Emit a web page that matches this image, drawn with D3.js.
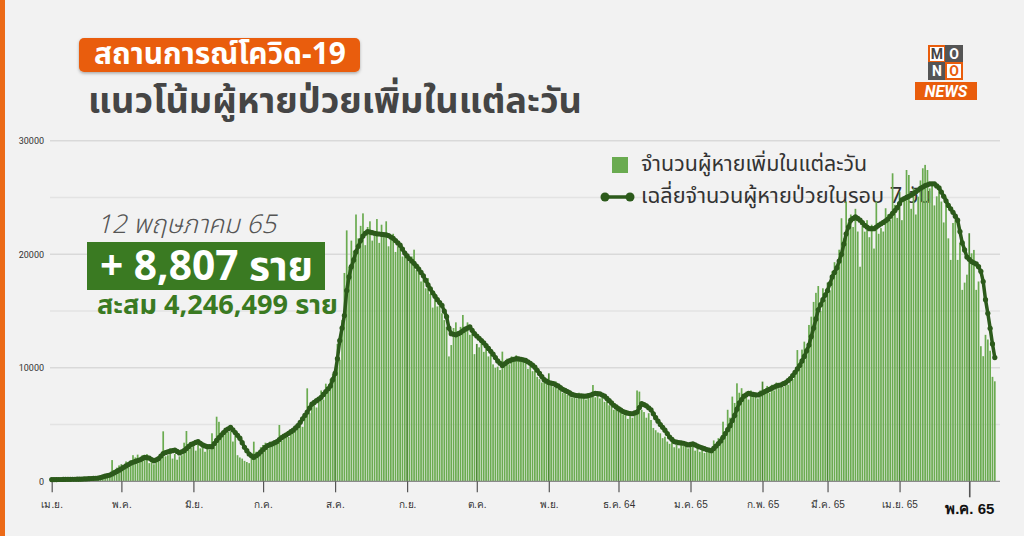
<!DOCTYPE html>
<html lang="th">
<head>
<meta charset="utf-8">
<title>แนวโน้มผู้หายป่วยเพิ่มในแต่ละวัน</title>
<script src="https://cdn.jsdelivr.net/npm/d3@7"></script>
<style>
  html, body { margin: 0; padding: 0; background: #f2f2f2; }
  svg { display: block; font-family: "Noto Sans Thai", "Noto Sans Thai UI", "Noto Sans", "DejaVu Sans", sans-serif; }
</style>
</head>
<body>
<svg id="chart" width="1024" height="536"></svg>
<script>
// daily recovered, starting 1 Apr 2021 (one value per day up to 12 May 2022)
const START_DATE = new Date(2021, 3, 1);

const recovered = [
  // Apr 21
  40,60,90,110,70,150,120,130,160,140, 200,180,150,230,210,170,260,300,240,280, 320,420,480,520,600,650,1870,1000,1200,1400,
  // May 21
  1500,1300,1750,1600,1850,2300,2100,2350,1700,2300, 2250,2400,1600,1750,1500,1900,1800,2100,4400,2200, 2300,2900,2000,2400,1900,2200,2300,3400,4430,2900, 3000,
  // Jun 21
  3300,2700,3600,2900,3100,2600,3200,2800,4230,3000, 5690,5240,4300,4200,4500,4350,4400,3500,4100,2300, 2100,2000,1800,1700,1600,2400,3490,2600,2300,3000,
  // Jul 21
  3200,3400,2900,3500,3300,3550,3300,4960,3600,4000, 4200,3900,4400,4700,4500,5000,5400,4800,6000,8190, 6000,6800,7000,6500,7400,8000,7200,8600,8300,9000, 9470,
  // Aug 21
  9600,12100,10700,14200,18350,22100,18900,21200,20300,23500, 21400,22500,23600,20800,22400,22900,21200,22000,23100,21000, 22600,21500,22900,20700,21500,21800,20200,20700,21000,19800, 20300,
  // Sep 21
  20000,19300,19800,20400,18600,19000,17600,18300,17000,17900, 16500,15300,16600,15400,15800,14800,14200,13600,11000,12000, 13500,14000,13100,13600,14650,13300,14000,12900,13400,11200,
  // Oct 21
  12100,11800,12300,11400,11900,11000,11200,10300,10000,10100, 9800,11420,10200,10800,10300,11000,10600,11100,10600,10900, 10500,10800,9900,10300,9700,9900,9200,9000,8700,8900, 8600,
  // Nov 21
  9510,8600,8300,8800,8100,8400,7800,8200,7600,8000, 7400,7700,7300,7800,7400,7600,7200,7700,7500,8480, 7400,7800,7300,7600,7000,7200,6700,6900,6300,6500,
  // Dec 21
  6200,6500,5900,6100,5500,5800,5600,6000,8000,7900, 6300,6100,5600,6000,5400,4700,4500,4300,4230,3800, 3930,3500,3300,3600,3000,3200,2900,3300,3100,3400, 2900,
  // Jan 22
  3400,3100,2700,3000,2600,2900,2500,2800,2600,2700, 3600,3300,3800,3900,5250,4300,6300,5600,7460,6900, 8630,7800,8200,7400,7900,7200,8000,7500,7800,7300, 8000,
  // Feb 22
  8780,7900,8400,7800,8500,8000,8700,8200,8600,8300, 8900,8500,9220,9000,9500,11560,10500,11600,12300,11800, 13770,14500,15800,16600,17200,15000,17000,16000,
  // Mar 22
  17500,16800,18500,19300,18600,20400,23170,21400,24640,22800, 23500,22400,24000,22000,18900,22500,21990,23000,21500,22600, 20500,24640,21800,22300,22000,24050,23500,23000,27130,24350, 23200,
  // Apr 22
  25500,23000,24800,27420,26980,24000,25810,23500,25070,26500, 27570,27870,27420,25800,26200,24300,25100,25660,24640,22800, 25070,21400,19500,22750,23460,19500,21000,16860,17500,18200,
  // May 22
  21850,20080,20380,16860,17600,11900,11020,12900,12490,11500,9200,8807
];

// 7-day average as drawn
const avg7 = [
  // Apr 21
  150,150,155,160,160,165,170,170,175,180, 180,185,190,200,210,220,230,245,260,270, 280,330,390,450,500,550,650,760,870,980,
  // May 21
  1100,1230,1350,1480,1600,1680,1750,1830,1900,2000, 2100,2080,2050,1920,1800,1900,2000,2230,2450,2530, 2600,2650,2700,2750,2630,2500,2600,2700,2880,3070, 3250,
  // Jun 21
  3330,3420,3500,3350,3200,3120,3050,3050,3050,3320, 3600,3840,4080,4300,4500,4630,4750,4530,4300,4050, 3800,3400,3000,2700,2400,2250,2100,2250,2400,2600,
  // Jul 21
  2800,2980,3150,3230,3300,3400,3500,3680,3850,3980, 4100,4230,4370,4500,4700,4900,5200,5500,5800,6100, 6450,6800,6950,7100,7250,7400,7650,7900,8150,8400, 8950,
  // Aug 21
  9500,10800,12400,13500,14600,16800,18000,18900,19500,20200, 20700,21200,21600,21850,22000,21950,21900,21850,21800,21780, 21750,21720,21700,21650,21520,21400,21200,21000,20800,20450, 20100,
  // Sep 21
  19850,19600,19400,19200,18950,18700,18400,18100,17700,17300, 16950,16600,16300,16000,15750,15500,15000,14500,13500,13000, 12950,12900,13000,13100,13250,13400,13500,13600,13300,13000,
  // Oct 21
  12800,12600,12400,12200,11950,11700,11450,11200,10900,10600, 10400,10200,10350,10500,10600,10700,10750,10800,10780,10750, 10700,10650,10520,10400,10230,10050,9780,9500,9220,8950, 8820,
  // Nov 21
  8700,8650,8600,8500,8400,8250,8100,8000,7900,7780, 7650,7600,7550,7530,7520,7510,7500,7550,7600,7680, 7750,7720,7700,7600,7500,7300,7100,6900,6700,6550,
  // Dec 21
  6400,6270,6150,6070,6000,5970,5950,6020,6100,6500, 6850,6750,6650,6480,6300,5950,5600,5300,5000,4750, 4500,4200,3900,3700,3500,3450,3400,3380,3350,3280, 3200,
  // Jan 22
  3250,3300,3200,3100,3020,2950,2870,2800,2750,2700, 2900,3100,3320,3550,3870,4200,4550,4900,5350,5800, 6350,6900,7200,7500,7620,7750,7700,7650,7620,7600, 7700,
  // Feb 22
  7800,7900,8000,8100,8200,8300,8400,8450,8500,8600, 8700,8870,9050,9320,9600,9900,10200,10600,11000,11500, 12000,12750,13500,14300,15100,15550,16000,16400,
  // Mar 22
  16800,17400,18000,18400,18800,19400,20000,20900,21800,22400, 23000,23150,23300,23150,23000,22780,22550,22400,22250,22250, 22250,22400,22550,22680,22800,22950,23100,23350,23600,23850, 24100,
  // Apr 22
  24450,24800,24900,25000,25100,25200,25350,25500,25650,25800, 25920,26050,26120,26200,26200,26200,26020,25850,25480,25100, 24700,24300,24000,23700,23350,23000,22000,21000,20380,19750,
  // May 22
  19550,19350,19250,19150,18900,18500,17600,16000,14800,13480,12100,10900
];

const yTickValues = [0, 10000, 20000, 30000];
const gridValues = [5000, 10000, 15000, 20000, 25000, 30000];
const monthLabels = ["เม.ย.", "พ.ค.", "มิ.ย.", "ก.ค.", "ส.ค.", "ก.ย.", "ต.ค.", "พ.ย.",
  "ธ.ค. 64", "ม.ค. 65", "ก.พ. 65", "มี.ค. 65", "เม.ย. 65", "พ.ค. 65"];

const GREEN_BAR = "#6aab50";
const GREEN_DARK = "#2c5a1b";
const GREEN_BOX = "#3a7a22";
const ORANGE = "#e95d0c";

const svg = d3.select("#chart");
const W = 1024, H = 536;

svg.append("rect").attr("width", W).attr("height", H).attr("fill", "#f2f2f2");
svg.append("rect").attr("width", 5).attr("height", H).attr("fill", "#ec6a17");

const dates = recovered.map((_, i) => d3.timeDay.offset(START_DATE, i));
const series = dates.map((d, i) => ({ date: d, value: recovered[i], avg: avg7[i] }));

const x = d3.scaleTime().domain([START_DATE, dates[dates.length - 1]]).range([51.7, 994.8]);
const y = d3.scaleLinear().domain([0, 30000]).range([481.3, 140.7]);
const barW = 1.7;

// text width fitter – keeps headings at the width they have in the picture
function fit(sel, width) {
  const node = sel.node();
  const len = node.getComputedTextLength();
  if (len > 0) {
    const fs = parseFloat(sel.attr("font-size"));
    sel.attr("font-size", (fs * width / len).toFixed(2));
  }
  return sel;
}

// ---- gridlines
svg.append("g").selectAll("line").data(gridValues).join("line")
  .attr("x1", 50).attr("x2", 1000)
  .attr("y1", (d) => y(d)).attr("y2", (d) => y(d))
  .attr("stroke", (d) => d % 10000 === 0 ? "#d9d9d9" : "#e3e3e3")
  .attr("stroke-width", 1.5);

// ---- y axis labels
const yAxis = svg.append("g").attr("transform", "translate(50,0)")
  .call(d3.axisLeft(y).tickValues(yTickValues).tickSize(0).tickPadding(6).tickFormat(d3.format("d")));
yAxis.select(".domain").remove();
yAxis.selectAll("text").attr("font-size", 9).attr("fill", "#333").attr("font-family", "Roboto, 'DejaVu Sans', sans-serif");

// ---- legend (drawn under the bars, as in the picture)
const legend = svg.append("g");
legend.append("rect").attr("x", 612).attr("y", 157).attr("width", 16).attr("height", 16).attr("fill", GREEN_BAR);
fit(legend.append("text").attr("x", 641).attr("y", 171).attr("font-size", 17).attr("fill", "#333")
  .text("จำนวนผู้หายเพิ่มในแต่ละวัน"), 226);
legend.append("line").attr("x1", 605).attr("x2", 630).attr("y1", 197).attr("y2", 197)
  .attr("stroke", GREEN_DARK).attr("stroke-width", 3.5);
legend.selectAll("circle").data([605, 630]).join("circle")
  .attr("cx", (d) => d).attr("cy", 197).attr("r", 4.5).attr("fill", GREEN_DARK);
fit(legend.append("text").attr("x", 641).attr("y", 203).attr("font-size", 17).attr("fill", "#333")
  .text("เฉลี่ยจำนวนผู้หายป่วยในรอบ 7 วัน"), 291);

// ---- bars
svg.append("g").selectAll("rect").data(series).join("rect")
  .attr("x", (d) => x(d.date) - barW / 2)
  .attr("y", (d) => y(d.value))
  .attr("width", barW)
  .attr("height", (d) => y(0) - y(d.value))
  .attr("fill", (d) => d.date.getDate() === 1 ? "#4c8a33" : GREEN_BAR);

// ---- x axis
const months = d3.timeMonth.range(START_DATE, d3.timeDay.offset(dates[dates.length - 1], 1));
svg.append("line").attr("x1", 50).attr("x2", 1000).attr("y1", y(0)).attr("y2", y(0))
  .attr("stroke", "#8a8a8a").attr("stroke-width", 1.2);
const xAxis = svg.append("g").attr("transform", `translate(0,${y(0)})`)
  .call(d3.axisBottom(x).tickValues(months).tickSize(11).tickPadding(9)
    .tickFormat((d, i) => monthLabels[i]));
xAxis.select(".domain").remove();
xAxis.selectAll(".tick line").attr("stroke", "#555").attr("stroke-width", 1.2);
xAxis.selectAll("text").attr("font-size", 10).attr("fill", "#333");
const last = xAxis.selectAll(".tick").filter((d, i) => i === months.length - 1);
last.select("line").attr("y2", 16).attr("stroke-width", 1.6);
last.select("text").attr("font-size", 15).attr("font-weight", 700).attr("fill", "#111").attr("y", 22);

// ---- 7-day average line with a dot per day
svg.append("path").datum(series)
  .attr("fill", "none").attr("stroke", GREEN_DARK).attr("stroke-width", 3.5)
  .attr("stroke-linejoin", "round")
  .attr("d", d3.line().x((d) => x(d.date)).y((d) => y(d.avg)));
svg.append("g").selectAll("circle").data(series).join("circle")
  .attr("cx", (d) => x(d.date)).attr("cy", (d) => y(d.avg)).attr("r", 2.6)
  .attr("fill", GREEN_DARK);

// ---- headings
const defs = svg.append("defs");
const sh = defs.append("filter").attr("id", "shadow").attr("x", "-10%").attr("y", "-30%").attr("width", "120%").attr("height", "160%");
sh.append("feDropShadow").attr("dx", 0).attr("dy", 1.5).attr("stdDeviation", 1.5).attr("flood-color", "#000").attr("flood-opacity", 0.3);

svg.append("rect").attr("x", 79).attr("y", 38).attr("width", 281).attr("height", 34).attr("rx", 5)
  .attr("fill", ORANGE).attr("filter", "url(#shadow)");
fit(svg.append("text").attr("x", 94).attr("y", 64).attr("font-size", 22).attr("font-weight", 700)
  .attr("fill", "#fff").text("สถานการณ์โควิด-19"), 252);

fit(svg.append("text").attr("x", 88).attr("y", 113).attr("font-size", 31).attr("font-weight", 700)
  .attr("fill", "#454545").text("แนวโน้มผู้หายป่วยเพิ่มในแต่ละวัน"), 494);

// ---- annotation for the latest day
fit(svg.append("text").attr("x", 97).attr("y", 233).attr("font-size", 21).attr("font-style", "italic")
  .attr("font-weight", 300).attr("fill", "#555").text("12 พฤษภาคม 65"), 179);
svg.append("rect").attr("x", 87).attr("y", 242).attr("width", 238).attr("height", 48).attr("fill", GREEN_BOX);
fit(svg.append("text").attr("x", 100).attr("y", 280).attr("font-size", 38).attr("font-weight", 700)
  .attr("fill", "#fff").text("+ 8,807 ราย"), 213);
fit(svg.append("text").attr("x", 97).attr("y", 314).attr("font-size", 23).attr("font-weight", 700)
  .attr("fill", GREEN_BOX).text("สะสม 4,246,499 ราย"), 241);

// ---- MONO NEWS logo
const logo = svg.append("g").attr("font-family", "Roboto, 'DejaVu Sans', sans-serif").attr("font-weight", 700);
const tiles = [
  { ch: "M", x: 929, y: 46, bg: "#fff", fg: "#444", stroke: ORANGE },
  { ch: "O", x: 946, y: 46, bg: "#555", fg: "#fff", stroke: "#555" },
  { ch: "N", x: 929, y: 63, bg: "#555", fg: "#fff", stroke: "#555" },
  { ch: "O", x: 946, y: 63, bg: "#fff", fg: ORANGE, stroke: ORANGE },
];
tiles.forEach((t) => {
  logo.append("rect").attr("x", t.x).attr("y", t.y).attr("width", 16).attr("height", 16)
    .attr("fill", t.bg).attr("stroke", t.stroke).attr("stroke-width", 2);
  logo.append("text").attr("x", t.x + 8).attr("y", t.y + 13).attr("text-anchor", "middle")
    .attr("font-size", 14).attr("fill", t.fg).text(t.ch);
});
logo.append("rect").attr("x", 915).attr("y", 82).attr("width", 62).attr("height", 18).attr("fill", ORANGE);
logo.append("text").attr("x", 946).attr("y", 97).attr("text-anchor", "middle").attr("font-size", 16)
  .attr("font-style", "italic").attr("fill", "#fff").text("NEWS");
</script>
</body>
</html>
